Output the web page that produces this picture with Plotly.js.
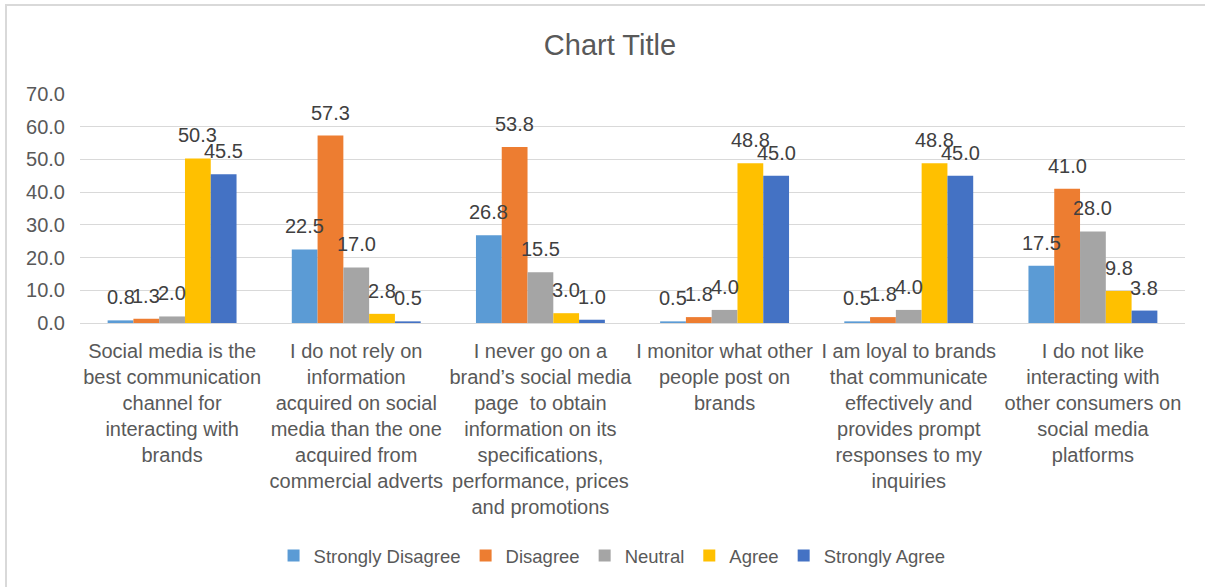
<!DOCTYPE html>
<html>
<head>
<meta charset="utf-8">
<script src="https://cdn.plot.ly/plotly-3.0.1.min.js"></script>
<style>
  html, body { margin: 0; padding: 0; background: #ffffff; }
  #wrap { position: relative; width: 1205px; height: 587px; overflow: hidden; }
  #chart { width: 1205px; height: 587px; }
  #frame { position: absolute; left: 5px; top: 4px; width: 1400px; height: 800px;
           border-left: 2px solid #d9d9d9; border-top: 2px solid #d9d9d9; pointer-events: none; }
</style>
</head>
<body>
<div id="wrap">
  <div id="chart"></div>
  <div id="frame"></div>
</div>
<script>
const categories = [
  "Social media is the<br>best communication<br>channel for<br>interacting with<br>brands",
  "I do not rely on<br>information<br>acquired on social<br>media than the one<br>acquired from<br>commercial adverts",
  "I never go on a<br>brand’s social media<br>page  to obtain<br>information on its<br>specifications,<br>performance, prices<br>and promotions",
  "I monitor what other<br>people post on<br>brands",
  "I am loyal to brands<br>that communicate<br>effectively and<br>provides prompt<br>responses to my<br>inquiries",
  "I do not like<br>interacting with<br>other consumers on<br>social media<br>platforms"
];
const seriesNames = ["Strongly Disagree", "Disagree", "Neutral", "Agree", "Strongly Agree"];
const stronglyDisagree = [0.8, 22.5, 26.8, 0.5, 0.5, 17.5];
const disagree         = [1.3, 57.3, 53.8, 1.8, 1.8, 41.0];
const neutral          = [2.0, 17.0, 15.5, 4.0, 4.0, 28.0];
const agree            = [50.3, 2.8, 3.0, 48.8, 48.8, 9.8];
const stronglyAgree    = [45.5, 0.5, 1.0, 45.0, 45.0, 3.8];
const yTickVals = [0, 10, 20, 30, 40, 50, 60, 70];

const seriesValues = [stronglyDisagree, disagree, neutral, agree, stronglyAgree];
const colors = ["#5B9BD5", "#ED7D31", "#A5A5A5", "#FFC000", "#4472C4"];
const FONT = "'Liberation Sans', Arial, sans-serif";
const BARGAP = 0.3;
const nSeries = seriesValues.length;
const barUnit = (1 - BARGAP) / nSeries;   // width of one bar in category units

const traces = seriesValues.map((vals, i) => ({
  type: "bar",
  name: seriesNames[i],
  x: categories,
  y: vals,
  marker: { color: colors[i], line: { width: 0 } },
  hoverinfo: "x+y+name"
}));

// Data labels: placed through the axes at each bar's centre and value
const annotations = [];
seriesValues.forEach((vals, i) => {
  vals.forEach((v, c) => {
    annotations.push({
      xref: "x", yref: "y",
      x: c + (i - (nSeries - 1) / 2) * barUnit,
      y: v,
      text: v.toFixed(1),
      showarrow: false,
      xanchor: "center", yanchor: "bottom",
      yshift: 10,
      font: { family: FONT, size: 20, color: "#404040" }
    });
  });
});

const layout = {
  width: 1205,
  height: 587,
  margin: { l: 80, r: 20, t: 94, b: 264 },
  paper_bgcolor: "#ffffff",
  plot_bgcolor: "#ffffff",
  font: { family: FONT, color: "#595959" },
  title: {
    text: "Chart Title",
    font: { family: FONT, size: 29, color: "#595959" },
    x: 0.4796, xref: "paper", xanchor: "center",
    y: 1 - 45 / 587, yref: "container", yanchor: "middle"
  },
  barmode: "group",
  bargap: BARGAP,
  bargroupgap: 0,
  showlegend: true,
  legend: {
    orientation: "h",
    x: 0.4815, xanchor: "center",
    y: -1.017, yanchor: "middle",
    font: { family: FONT, size: 18.5, color: "#595959" },
    itemwidth: 30,
    traceorder: "normal"
  },
  annotations: annotations,
  xaxis: {
    type: "category",
    showgrid: false,
    showline: false,
    zeroline: false,
    ticks: "",
    tickangle: 0,
    tickfont: { family: FONT, size: 20, color: "#595959" },
    ticklabelstandoff: 14
  },
  yaxis: {
    range: [0, 70],
    tickvals: yTickVals,
    ticktext: yTickVals.map(v => v.toFixed(1)),
    showgrid: true,
    gridcolor: "#d9d9d9",
    gridwidth: 1,
    zeroline: true,
    zerolinecolor: "#d9d9d9",
    zerolinewidth: 1,
    showline: false,
    ticks: "",
    tickfont: { family: FONT, size: 20, color: "#595959" },
    ticklabelstandoff: 14
  }
};

Plotly.newPlot("chart", traces, layout, { staticPlot: true, displayModeBar: false });
</script>
</body>
</html>
